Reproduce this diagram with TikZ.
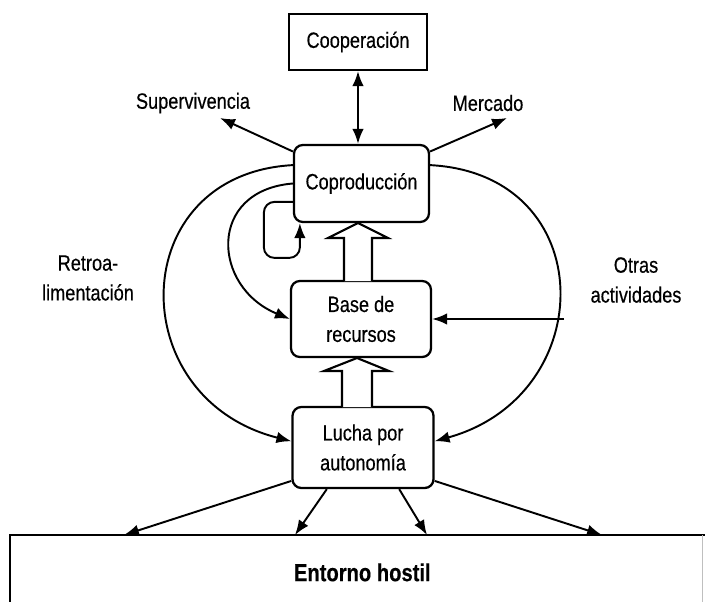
\documentclass[tikz,border=0pt]{standalone}
\usepackage{fontspec}
\setmainfont{Liberation Sans}[FakeStretch=0.82, FakeBold=0.4]
\usetikzlibrary{arrows.meta,calc}

\tikzset{
  punta/.tip={Latex[length=8.5pt,width=6.5pt]},
  caja/.style={draw, line width=1.3pt, rounded corners=5pt, inner sep=0pt, align=center},
  flecha/.style={line width=1.1pt, -punta},
  hueca/.style={draw, line width=1.2pt, fill=white, line join=miter},
}

\begin{document}
\begin{tikzpicture}[x=0.02cm, y=-0.02cm, font=\fontsize{12.6}{17}\selectfont]
    % --- marco de la figura ---
    \useasboundingbox (0,0) rectangle (705,601);
    \clip (0,0) rectangle (705,601);

    % --- cajas ---
    \node[caja, rounded corners=0pt, minimum width=2.76cm, minimum height=1.12cm] (coop) at (358,42) {Cooperación};
    \node[caja, minimum width=2.7cm, minimum height=1.54cm] (coprod) at (361.5,183.5) {Coproducción};
    \node[caja, minimum width=2.8cm, minimum height=1.52cm] (base) at (361,319) {Base de\\recursos};
    \node[caja, minimum width=2.82cm, minimum height=1.62cm] (lucha) at (363,447.5) {Lucha por\\autonomía};
    % entorno (cortado abajo)
    \node[anchor=north west, minimum width=14.08cm, minimum height=1.48cm, inner sep=0pt,
          font=\fontsize{14}{17}\selectfont\bfseries] (entorno) at (10,535) {Entorno hostil};
    \draw[line width=1.3pt] (entorno.south west) -- (entorno.north west) -- (entorno.north east);
    \draw[gray!50] ($(entorno.north west)+(692,0)$) -- ($(entorno.south west)+(692,0)$);

    % --- textos sueltos ---
    \node (superv) at (193,103) {Supervivencia};
    \node (mercado) at (488,103) {Mercado};
    \node[align=center] (retro) at (88,278) {Retroa-\\limentación};
    \node[align=center] (otras) at (636,280) {Otras\\actividades};

    \coordinate (supfin) at (220,118);
    \coordinate (merfin) at (507,118);
    \coordinate (otrini) at (564,319);

    % --- flechas arriba ---
    \draw[flecha, punta-punta] (coop.south) -- (coop.south |- coprod.north);
    \draw[flecha] (coprod.155) -- (supfin);
    \draw[flecha] (coprod.25) -- (merfin);

    % --- retroalimentacion ---
    \draw[flecha] (coprod.165) .. controls +(-168,9) and +(-170,-43) .. (lucha.175);
    \draw[flecha] (coprod.west) .. controls +(-86,7) and +(-78,-32) .. (base.west);
    \draw[flecha, rounded corners=6pt] (coprod.195) -| ++(-29,56) -| ($(coprod.south west)+(7,0)$);
    \draw[flecha] (coprod.15) .. controls +(171,9) and +(166,-46) .. (lucha.5);

    % otras actividades
    \draw[flecha] (otrini) -- (base.east);

    % --- flechas huecas ---
    \draw[hueca] (344,281) -- (344,238) -- (328,238) -- (358,223) -- (388,238) -- (372,238) -- (372,281);
    \draw[hueca] (342,407) -- (342,371) -- (324,371) -- (357,358) -- (389,371) -- (372,371) -- (372,407);

    % --- hacia el entorno ---
    \draw[flecha] (lucha.205) -- ($(entorno.north west)+(114,0)$);
    \draw[flecha] (lucha.229) -- ($(entorno.north west)+(285,0)$);
    \draw[flecha] (lucha.311) -- ($(entorno.north west)+(417,0)$);
    \draw[flecha] (lucha.335) -- ($(entorno.north west)+(592,0)$);

\end{tikzpicture}
\end{document}
